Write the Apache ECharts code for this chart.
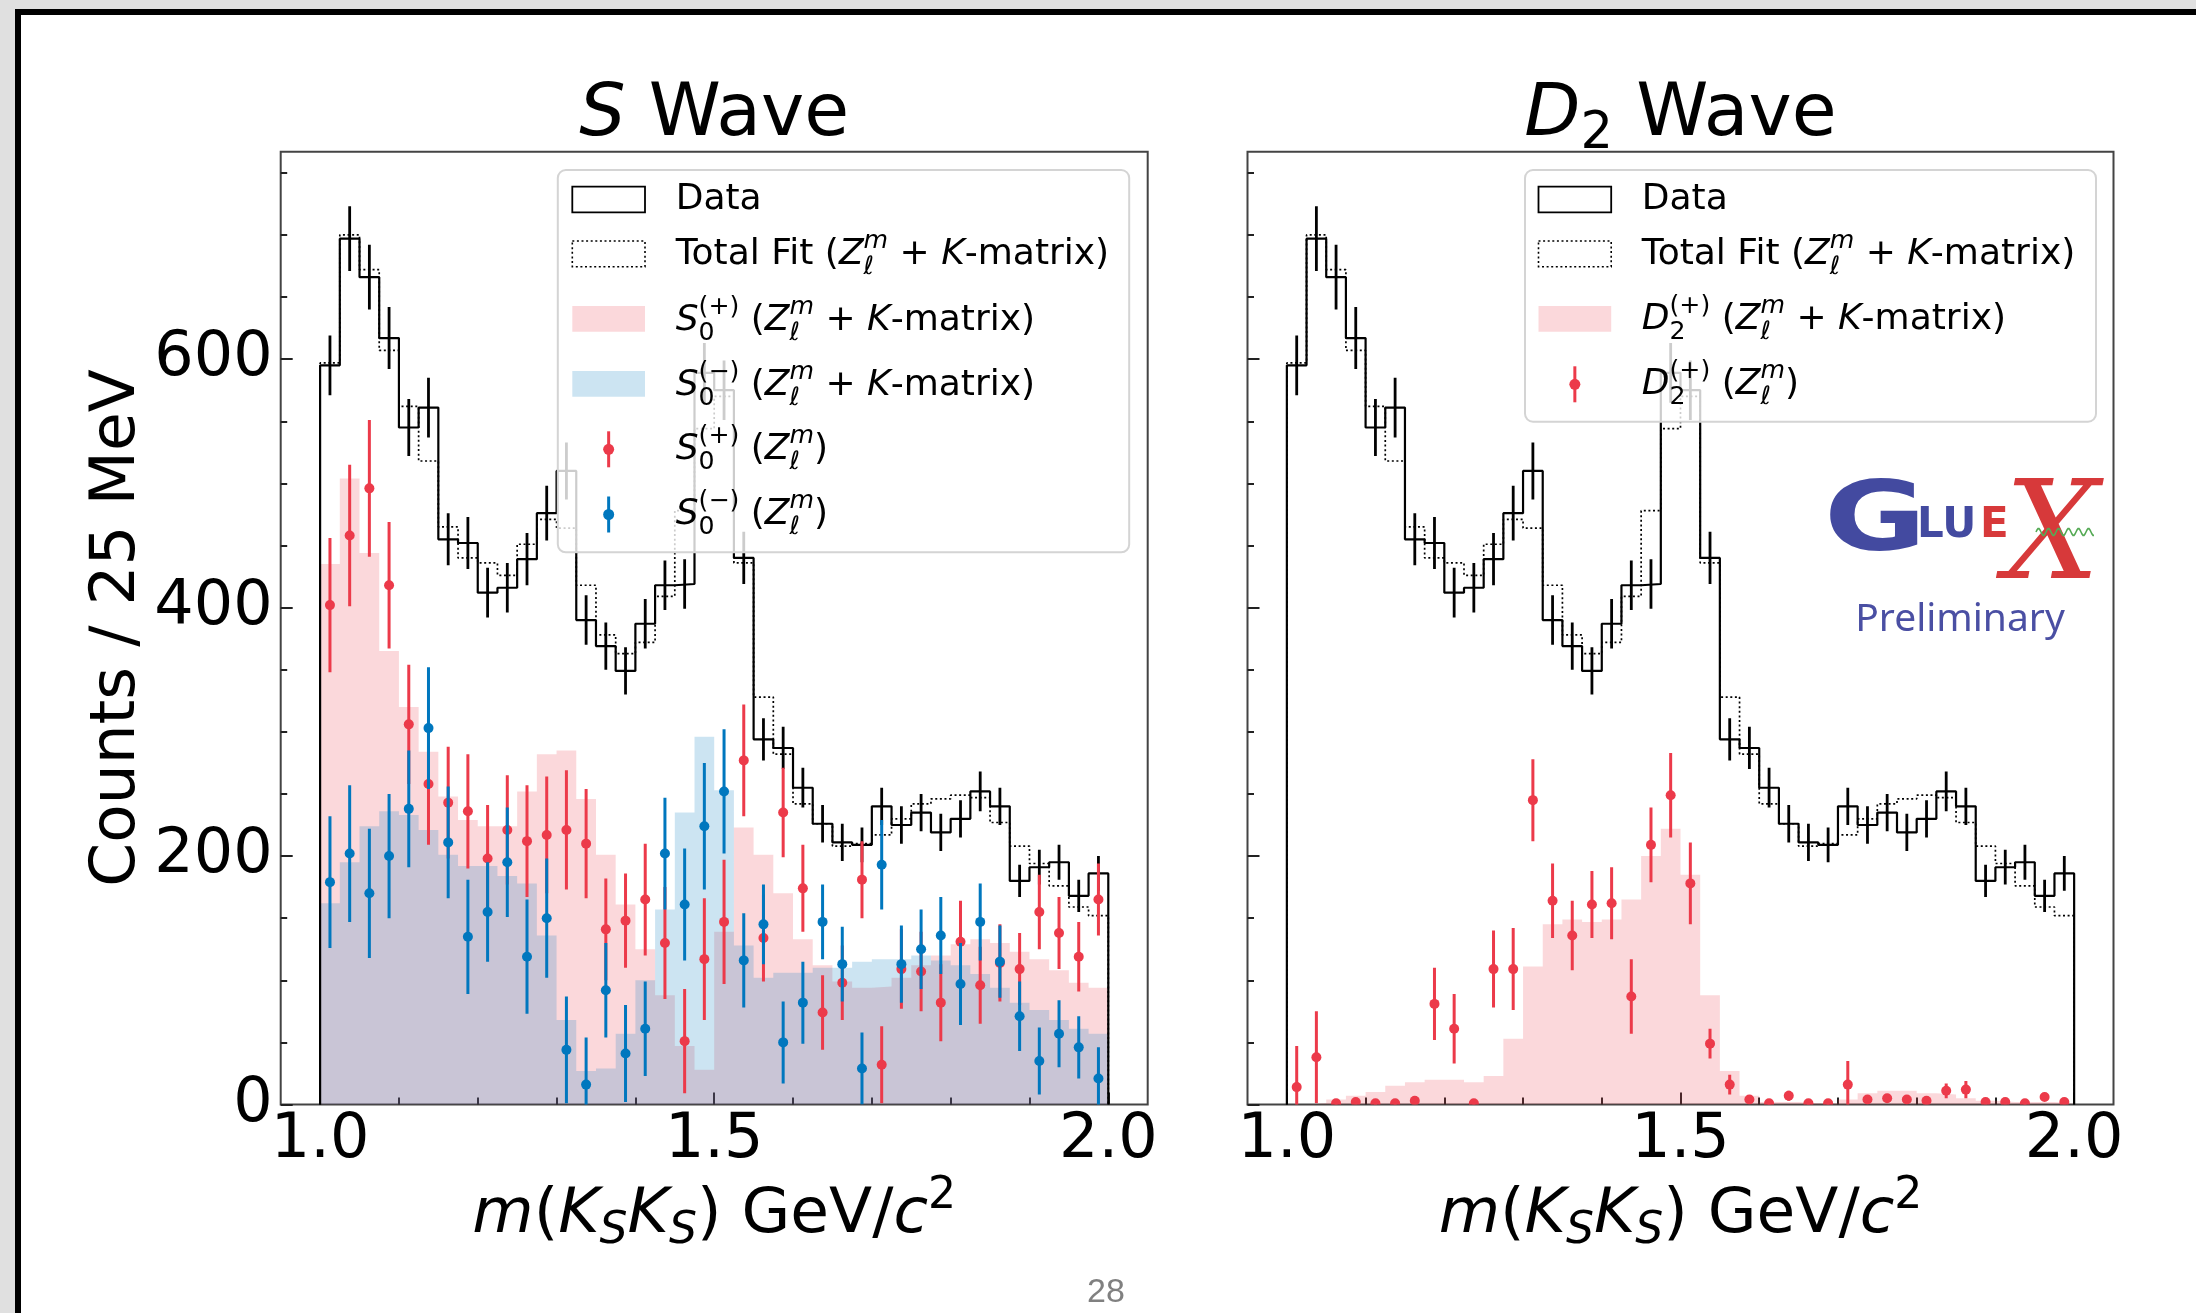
<!DOCTYPE html>
<html><head><meta charset="utf-8">
<script src="https://cdn.jsdelivr.net/npm/echarts@6/dist/echarts.min.js"></script>
<style>
html,body{margin:0;padding:0;width:2196px;height:1313px;overflow:hidden;background:#e0e0e0;}
#slide{position:absolute;left:15px;top:9px;width:2181px;height:1304px;background:#fff;border-top:6px solid #000;border-left:6px solid #000;box-sizing:border-box;}
#chart{position:absolute;left:0;top:0;width:2196px;height:1313px;}
</style></head><body>
<div id="slide"></div>
<div id="chart"></div>
<script>
// ---------------- DATA ----------------
const binStart = 1.0, binWidth = 0.025, nBins = 40;
const xMajorTicks = [1.0, 1.5, 2.0];
const xMinorTicks = [1.1, 1.2, 1.3, 1.4, 1.6, 1.7, 1.8, 1.9];
const yMajorTicks = [0, 200, 400, 600];
const yMinorTicks = [50, 100, 150, 250, 300, 350, 450, 500, 550, 650, 700, 750];

// Data histogram (same in both panels)
const dataCounts = [595, 697, 666, 617, 545, 561, 455, 452, 412, 416, 439, 476, 510, 390, 369, 349, 387, 418, 419, 589,
                    575, 440, 294, 287, 255, 226, 211, 209, 240, 225, 235, 219, 230, 252, 240, 180, 191, 195, 168, 186];
const dataErr = [24, 26, 26, 25, 23, 24, 21, 21, 20, 20, 21, 22, 23, 20, 19, 19, 20, 20, 20, 24,
                 24, 21, 17, 17, 16, 15, 15, 14, 15, 15, 15, 15, 15, 16, 15, 13, 14, 14, 13, 14];
// Total fit (dotted)
const totalFit = [597, 700, 672, 607, 562, 518, 465, 440, 436, 426, 451, 471, 464, 418, 378, 363, 372, 409, 478, 544,
                  570, 436, 328, 282, 242, 226, 208, 210, 217, 230, 242, 246, 249, 247, 227, 208, 194, 176, 159, 152];
// S wave: K-matrix fits (filled)
const s0PlusFit = [435, 504, 444, 365, 320, 284, 248, 229, 224, 224, 252, 282, 285, 246, 201, 161, 125, 88, 47, 28,
                   139, 223, 201, 170, 133, 112, 99, 94, 95, 102, 112, 120, 129, 133, 130, 123, 117, 108, 98, 94];
const s0MinusFit = [162, 195, 224, 236, 233, 221, 201, 192, 192, 184, 178, 136, 68, 27, 29, 57, 100, 157, 235, 296,
                    253, 128, 102, 106, 106, 110, 110, 115, 117, 117, 120, 116, 112, 105, 94, 82, 76, 68, 61, 57];
// S wave: Zlm points
const s0PlusPts = [402, 458, 496, 418, 306, 258, 243, 236, 198, 221, 212, 217, 221, 210, 141, 148, 165, 130, 51, 117,
                   147, 277, 134, 235, 174, 74, 98, 181, 32, 109, 107, 82, 131, 96, 114, 109, 155, 138, 119, 165];
const s0PlusErr = [54, 57, 55, 51, 48, 49, 45, 46, 43, 44, 45, 47, 48, 44, 41, 38, 45, 45, 42, 49,
                   50, 45, 35, 36, 35, 30, 30, 31, 31, 32, 32, 31, 33, 31, 31, 29, 30, 29, 28, 29];
const s0MinusPts = [179, 202, 170, 200, 238, 303, 211, 135, 155, 195, 119, 150, 44, 16, 92, 41, 61, 202, 161, 224,
                    252, 116, 145, 50, 82, 147, 113, 29, 193, 113, 125, 136, 97, 147, 115, 71, 35, 57, 46, 21];
const s0MinusErr = [53, 55, 52, 50, 47, 49, 45, 46, 40, 44, 46, 48, 43, 38, 38, 39, 38, 45, 45, 51,
                    50, 38, 32, 33, 33, 30, 30, 29, 36, 31, 32, 31, 33, 31, 29, 28, 27, 27, 25, 25];
// D2 wave
const d2PlusFit = [0, 1, 4, 7, 10, 15, 18, 20, 20, 18, 23, 53, 111, 145, 149, 147, 149, 165, 200, 222,
                   185, 88, 27, 7, 2, 2, 1, 1, 4, 9, 11, 11, 9, 8, 5, 3, 2, 2, 2, 1];
const d2PlusPts = [14, 38, 1, 2, 1, 1, 3, 81, 61, 1, 109, 109, 245, 164, 136, 161, 162, 87, 209, 249,
                   178, 49, 16, 4, 1, 7, 1, 1, 16, 4, 5, 4, 3, 11, 12, 2, 2, 1, 6, 2];
const d2PlusErr = [33, 37, 2, 2, 2, 2, 3, 29, 28, 2, 31, 33, 33, 30, 28, 27, 29, 30, 30, 34,
                   33, 12, 8, 3, 2, 4, 2, 2, 19, 3, 3, 3, 3, 6, 7, 2, 2, 2, 3, 2];

// ---------------- helpers ----------------
const RED = '#ec3a4a', BLUE = '#0077be';
const PINK_FILL = 'rgba(236,58,74,0.2)', BLUE_FILL = 'rgba(0,119,190,0.2)';
const FF = '"DejaVu Sans"';
const edges = Array.from({length: nBins + 1}, (_, i) => +(binStart + i * binWidth).toFixed(4));
const centers = Array.from({length: nBins}, (_, i) => +(binStart + (i + 0.5) * binWidth).toFixed(5));

function stepPts(vals) {
  const p = [[edges[0], 0]];
  vals.forEach((v, i) => { p.push([edges[i], v]); p.push([edges[i + 1], v]); });
  p.push([edges[vals.length], 0]);
  return p;
}
function stepLine(vals, xi, yi, style, z) {
  return {type: 'line', xAxisIndex: xi, yAxisIndex: yi, data: stepPts(vals), symbol: 'none', showSymbol: false,
          silent: true, animation: false, z: z, lineStyle: style, clip: true};
}
function stepArea(vals, xi, yi, color, z) {
  return {type: 'line', xAxisIndex: xi, yAxisIndex: yi, data: stepPts(vals), symbol: 'none', showSymbol: false,
          silent: true, animation: false, z: z, lineStyle: {width: 0, opacity: 0}, areaStyle: {color: color, opacity: 1}};
}
function errSeries(vals, errs, color, dotR, lw, xi, yi, z) {
  return {
    type: 'custom', xAxisIndex: xi, yAxisIndex: yi, z: z, silent: true, animation: false, clip: true,
    data: vals.map((v, i) => [centers[i], v, errs[i]]),
    renderItem: function (params, api) {
      const x = api.value(0), v = api.value(1), e = api.value(2);
      const a = api.coord([x, v - e]), b = api.coord([x, v + e]), c = api.coord([x, v]);
      const ch = [{type: 'line', shape: {x1: a[0], y1: a[1], x2: b[0], y2: b[1]}, style: {stroke: color, lineWidth: lw}}];
      if (dotR) ch.push({type: 'circle', shape: {cx: c[0], cy: c[1], r: dotR}, style: {fill: color}});
      return {type: 'group', children: ch};
    }
  };
}

// math-like text layout
const mctx = document.createElement('canvas').getContext('2d');
function fontStr(size, it, bold, fam) { return (it ? 'italic ' : '') + (bold ? 'bold ' : '') + size + 'px ' + (fam || FF); }
function mw(t, size, it) { mctx.font = fontStr(size, it); return mctx.measureText(t).width; }
function mathEls(parts, size, x, base, align, color, z) {
  const sc = 0.7 * size;
  let cx = 0; const items = [];
  for (const p of parts) {
    if (p.t !== undefined) {
      items.push({t: p.t, it: p.it, s: size, dx: cx, dy: 0});
      cx += mw(p.t, size, p.it);
    } else {
      let w = 0;
      const both = p.sup !== undefined && p.sub !== undefined;
      if (p.sup !== undefined) {
        items.push({t: p.sup, it: p.it, s: sc, dx: cx, dy: -(both ? 0.47 : 0.40) * size});
        w = Math.max(w, mw(p.sup, sc, p.it));
      }
      if (p.sub !== undefined) {
        items.push({t: p.sub, it: p.it, s: sc, dx: cx, dy: (both ? 0.25 : 0.16) * size});
        w = Math.max(w, mw(p.sub, sc, p.it));
      }
      cx += w;
    }
  }
  const x0 = align === 'center' ? x - cx / 2 : x;
  return items.map(it => ({
    type: 'text', z: z || 120, silent: true, x: x0 + it.dx, y: base + it.dy - 0.346 * it.s,
    style: {text: it.t, font: fontStr(it.s, it.it), fill: color || '#000', align: 'left', verticalAlign: 'middle'}
  }));
}

// ---------------- axes ----------------
const tickStyle = {color: '#222', width: 2};
function xAxes(gi, showLabels) {
  return [
    {gridIndex: gi, type: 'value', min: 0.95, max: 2.05, position: 'bottom', splitLine: {show: false},
     axisLine: {show: false, onZero: false},
     axisTick: {show: true, inside: true, length: 12, customValues: xMajorTicks, lineStyle: tickStyle},
     axisLabel: {show: showLabels, customValues: xMajorTicks, formatter: v => v.toFixed(1), fontSize: 62,
                 fontFamily: 'DejaVu Sans', color: '#000', margin: 5}},
    {gridIndex: gi, type: 'value', min: 0.95, max: 2.05, position: 'bottom', splitLine: {show: false},
     axisLine: {show: false, onZero: false},
     axisTick: {show: true, inside: true, length: 7, customValues: xMinorTicks, lineStyle: tickStyle},
     axisLabel: {show: false}}
  ];
}
function yAxes(gi, showLabels) {
  return [
    {gridIndex: gi, type: 'value', min: 0, max: 767, position: 'left', splitLine: {show: false},
     axisLine: {show: false, onZero: false},
     axisTick: {show: true, inside: true, length: 12, customValues: yMajorTicks, lineStyle: tickStyle},
     axisLabel: {show: showLabels, customValues: yMajorTicks, fontSize: 62, fontFamily: 'DejaVu Sans', color: '#000', margin: 8}},
    {gridIndex: gi, type: 'value', min: 0, max: 767, position: 'left', splitLine: {show: false},
     axisLine: {show: false, onZero: false},
     axisTick: {show: true, inside: true, length: 6.5, customValues: yMinorTicks, lineStyle: tickStyle},
     axisLabel: {show: false}}
  ];
}

// ---------------- series ----------------
const dataStyle = {color: '#000', width: 2.2};
const fitStyle = {color: '#000', width: 1.7, type: [2, 2.6]};
const series = [
  // S wave panel (grid 0 -> xAxis 0, yAxis 0)
  stepArea(s0PlusFit, 0, 0, PINK_FILL, 1),
  stepArea(s0MinusFit, 0, 0, BLUE_FILL, 2),
  stepLine(totalFit, 0, 0, fitStyle, 4),
  stepLine(dataCounts, 0, 0, dataStyle, 5),
  errSeries(dataCounts, dataErr, '#000', 0, 2.8, 0, 0, 6),
  errSeries(s0PlusPts, s0PlusErr, RED, 5, 3, 0, 0, 7),
  errSeries(s0MinusPts, s0MinusErr, BLUE, 5, 3, 0, 0, 8),
  // D2 wave panel (grid 1 -> xAxis 2, yAxis 2)
  stepArea(d2PlusFit, 2, 2, PINK_FILL, 1),
  stepLine(totalFit, 2, 2, fitStyle, 4),
  stepLine(dataCounts, 2, 2, dataStyle, 5),
  errSeries(dataCounts, dataErr, '#000', 0, 2.8, 2, 2, 6),
  errSeries(d2PlusPts, d2PlusErr, RED, 5, 3, 2, 2, 7)
];

// ---------------- graphics: titles, labels, legends, logo ----------------
const g = [];
const leftC = 280.7 + 867 / 2, rightC = 1247.5 + 866 / 2;
// titles
g.push(...mathEls([{t: 'S', it: true}, {t: ' Wave'}], 73, leftC, 141, 'center'));
g.push(...mathEls([{t: 'D', it: true}, {sub: '2'}, {t: ' Wave'}], 73, rightC, 141, 'center'));
// x labels
const xlab = [{t: 'm', it: true}, {t: '('}, {t: 'K', it: true}, {sub: 'S', it: true}, {t: 'K', it: true}, {sub: 'S', it: true},
              {t: ')'}, {t: ' GeV/'}, {t: 'c', it: true}, {sup: '2'}];
g.push(...mathEls(xlab, 63, leftC, 1237, 'center'));
g.push(...mathEls(xlab, 63, rightC, 1237, 'center'));
// y label
g.push({type: 'text', z: 120, silent: true, x: 118, y: 628, rotation: Math.PI / 2,
        style: {text: 'Counts / 25 MeV', font: fontStr(63), fill: '#000', align: 'center', verticalAlign: 'middle'}});
// page number
g.push({type: 'text', z: 120, silent: true, x: 1106, y: 1293,
        style: {text: '28', font: '34px "Liberation Sans"', fill: '#808080', align: 'center', verticalAlign: 'middle'}});

// legends
function legendBox(x1, y1, x2, y2) {
  return {type: 'rect', z: 100, silent: true, shape: {x: x1, y: y1, width: x2 - x1, height: y2 - y1, r: 8},
          style: {fill: 'rgba(255,255,255,0.8)', stroke: '#d4d4d4', lineWidth: 2}};
}
function patchRect(px, y1, y2, kind) {
  const base = {type: 'rect', z: 110, silent: true, shape: {x: px, y: y1, width: 72.7, height: y2 - y1}};
  if (kind === 'data') base.style = {fill: 'none', stroke: '#000', lineWidth: 1.8};
  else if (kind === 'fit') base.style = {fill: 'none', stroke: '#000', lineWidth: 1.6, lineDash: [2, 2.6]};
  else base.style = {fill: kind, stroke: 'none'};
  return base;
}
function patchMarker(cx, cy, color) {
  return [{type: 'line', z: 110, silent: true, shape: {x1: cx, y1: cy - 18, x2: cx, y2: cy + 18}, style: {stroke: color, lineWidth: 3}},
          {type: 'circle', z: 111, silent: true, shape: {cx: cx, cy: cy, r: 5.5}, style: {fill: color}}];
}
const LS = 36;
const zlmK = [{t: ' ('}, {t: 'Z', it: true}, {sup: 'm', sub: 'ℓ', it: true}, {t: ' + '}, {t: 'K', it: true}, {t: '-matrix)'}];
const zlm = [{t: ' ('}, {t: 'Z', it: true}, {sup: 'm', sub: 'ℓ', it: true}, {t: ')'}];
// left legend
{
  const px = 572.3, tx = 675.7;
  g.push(legendBox(557.8, 170, 1129.2, 552.3));
  g.push(patchRect(px, 186.7, 212.3, 'data'));
  g.push(patchRect(px, 241, 266.7, 'fit'));
  g.push(patchRect(px, 306, 331.7, PINK_FILL));
  g.push(patchRect(px, 371, 396.7, BLUE_FILL));
  g.push(...patchMarker(px + 36.35, 449.3, RED));
  g.push(...patchMarker(px + 36.35, 514.5, BLUE));
  g.push(...mathEls([{t: 'Data'}], LS, tx, 211.7, 'left'));
  g.push(...mathEls([{t: 'Total Fit'}].concat(zlmK), LS, tx, 266.7, 'left'));
  g.push(...mathEls([{t: 'S', it: true}, {sup: '(+)', sub: '0'}].concat(zlmK), LS, tx, 333, 'left'));
  g.push(...mathEls([{t: 'S', it: true}, {sup: '(\u2212)', sub: '0'}].concat(zlmK), LS, tx, 398.3, 'left'));
  g.push(...mathEls([{t: 'S', it: true}, {sup: '(+)', sub: '0'}].concat(zlm), LS, tx, 462.5, 'left'));
  g.push(...mathEls([{t: 'S', it: true}, {sup: '(\u2212)', sub: '0'}].concat(zlm), LS, tx, 527, 'left'));
}
// right legend
{
  const px = 1538.5, tx = 1641.8;
  g.push(legendBox(1525, 170, 2096, 421.7));
  g.push(patchRect(px, 186.7, 212.3, 'data'));
  g.push(patchRect(px, 241, 266.7, 'fit'));
  g.push(patchRect(px, 306, 331.7, PINK_FILL));
  g.push(...patchMarker(px + 36.35, 384.3, RED));
  g.push(...mathEls([{t: 'Data'}], LS, tx, 211.7, 'left'));
  g.push(...mathEls([{t: 'Total Fit'}].concat(zlmK), LS, tx, 266.7, 'left'));
  g.push(...mathEls([{t: 'D', it: true}, {sup: '(+)', sub: '2'}].concat(zlmK), LS, tx, 332.3, 'left'));
  g.push(...mathEls([{t: 'D', it: true}, {sup: '(+)', sub: '2'}].concat(zlm), LS, tx, 396.7, 'left'));
}
// GlueX logo
{
  const LB = '#434aa0', LR = '#d7393a';
  g.push({type: 'text', z: 130, silent: true, x: 1824, y: 558 - 0.346 * 96, scaleX: 1.3,
          style: {text: 'G', font: fontStr(96, false, true), fill: LB, align: 'left', verticalAlign: 'middle'}});
  g.push({type: 'text', z: 130, silent: true, x: 1917, y: 541 - 0.346 * 42,
          style: {text: 'LU', font: fontStr(42, false, true), fill: LB, align: 'left', verticalAlign: 'middle'}});
  g.push({type: 'text', z: 130, silent: true, x: 1980, y: 541 - 0.346 * 42,
          style: {text: 'E', font: fontStr(42, false, true), fill: LR, align: 'left', verticalAlign: 'middle'}});
  g.push({type: 'text', z: 131, silent: true, x: 2052, y: 588 - 0.33 * 136, scaleX: 0.98,
          style: {text: 'X', font: 'italic 136px "DejaVu Serif"', fill: LR, align: 'center', verticalAlign: 'middle'}});
  const wave = [];
  for (let i = 0; i <= 58; i++) wave.push([2036 + i, 532 - 3.5 * Math.sin(i / 10 * 2 * Math.PI)]);
  g.push({type: 'polyline', z: 132, silent: true, shape: {points: wave}, style: {stroke: '#55aa55', lineWidth: 1.6, fill: null}});
  g.push({type: 'text', z: 130, silent: true, x: 1960, y: 634 - 0.35 * 39,
          style: {text: 'Preliminary', font: '39px "Noto Sans"', fill: '#4a4fa3', align: 'center', verticalAlign: 'middle'}});
}

const option = {
  backgroundColor: 'transparent',
  animation: false,
  grid: [
    {left: 280.7, top: 151.7, width: 867, height: 952.8, show: true, borderColor: '#444', borderWidth: 2, backgroundColor: 'transparent'},
    {left: 1247.5, top: 151.7, width: 866, height: 952.8, show: true, borderColor: '#444', borderWidth: 2, backgroundColor: 'transparent'}
  ],
  xAxis: xAxes(0, true).concat(xAxes(1, true)),
  yAxis: yAxes(0, true).concat(yAxes(1, false)),
  series: series,
  graphic: {elements: g}
};
const chart = echarts.init(document.getElementById('chart'), null, {renderer: 'canvas', width: 2196, height: 1313});
chart.setOption(option);
</script>
</body></html>
